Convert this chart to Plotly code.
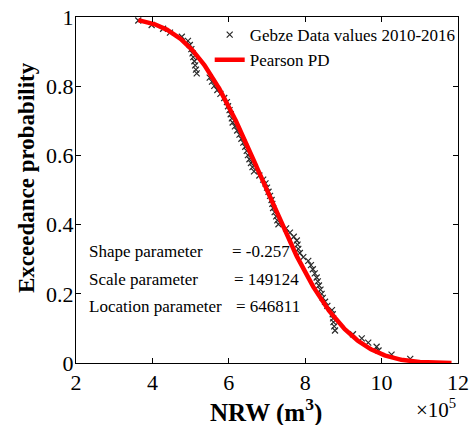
import numpy as np
import plotly.graph_objects as go

# Observed NRW values (x, in units of 1e5 m^3) and their exceedance probabilities
nrw_obs = [3.63, 3.98, 4.28, 4.46, 4.77, 4.93,
           4.98, 5.02, 5.05, 5.07, 5.10, 5.12, 5.14, 5.16,
           5.50, 5.56, 5.62, 5.70, 5.78, 5.88, 5.95, 5.98, 6.02, 6.05,
           6.08, 6.10, 6.16, 6.22, 6.28, 6.33, 6.38, 6.43, 6.47, 6.50,
           6.54, 6.58, 6.62, 6.66, 6.80, 6.90, 6.96, 7.00, 7.04, 7.08,
           7.12, 7.14, 7.16, 7.20, 7.24, 7.27, 7.30, 7.50, 7.60, 7.70,
           7.78, 7.80, 7.82, 7.86, 7.95, 8.08, 8.15, 8.20, 8.25, 8.30,
           8.33, 8.36, 8.40, 8.43, 8.46, 8.52, 8.58, 8.70, 8.72, 8.73,
           8.74, 8.76, 8.78, 9.25, 9.48, 9.65, 9.87, 9.92, 10.26, 10.75]
exc_obs = [0.990, 0.977, 0.966, 0.955, 0.943, 0.931,
           0.919, 0.907, 0.895, 0.884, 0.872, 0.860, 0.848, 0.837,
           0.825, 0.813, 0.801, 0.789, 0.778, 0.766, 0.754, 0.742, 0.731, 0.719,
           0.707, 0.695, 0.684, 0.672, 0.660, 0.648, 0.637, 0.625, 0.613, 0.601,
           0.589, 0.578, 0.566, 0.554, 0.542, 0.530, 0.519, 0.507, 0.495, 0.483,
           0.471, 0.460, 0.448, 0.436, 0.424, 0.412, 0.401, 0.389, 0.377, 0.365,
           0.354, 0.342, 0.330, 0.318, 0.306, 0.295, 0.283, 0.271, 0.259, 0.247,
           0.236, 0.224, 0.212, 0.200, 0.188, 0.177, 0.165, 0.153, 0.141, 0.129,
           0.118, 0.106, 0.094, 0.083, 0.071, 0.059, 0.047, 0.036, 0.024, 0.012]

# Fitted distribution parameters
shape_k = -0.257
scale_s = 149124.0
loc_mu = 646811.0

x_ticks = [2, 4, 6, 8, 10, 12]
y_ticks = [0, 0.2, 0.4, 0.6, 0.8, 1]

# Fitted exceedance curve: 1 - CDF with the parameters above
xc = np.linspace(3.63, 11.83, 400)
z = (xc * 1e5 - loc_mu) / scale_s
t = np.clip(1 + shape_k * z, 1e-12, None)
exc_fit = 1 - np.exp(-t ** (-1 / shape_k))

SERIF = "Liberation Serif"

fig = go.Figure()
fig.add_trace(go.Scatter(
    x=nrw_obs, y=exc_obs, mode="markers", name="Gebze Data values 2010-2016",
    marker=dict(symbol="x-thin", size=6, line=dict(width=1.2, color="#2a2a2a"),
                color="#2a2a2a"),
))
fig.add_trace(go.Scatter(
    x=xc, y=exc_fit, mode="lines", name="Pearson PD",
    line=dict(color="#ff0000", width=4.5),
))

axis_common = dict(
    showline=True, linecolor="black", linewidth=1, mirror="ticks",
    ticks="inside", ticklen=5, tickcolor="black", showgrid=False, zeroline=False,
    tickfont=dict(family=SERIF, size=22, color="black"), automargin=False,
)
fig.update_xaxes(range=[2, 12], tickvals=x_ticks, **axis_common)
fig.update_yaxes(range=[0, 1], tickvals=y_ticks, ticklabelstandoff=-3, **axis_common)

# Axis titles
fig.add_annotation(xref="paper", yref="paper", x=0.497, y=-0.137, xanchor="center",
                   yanchor="middle", text="<b>NRW (m<sup>3</sup>)</b>", showarrow=False,
                   font=dict(family=SERIF, size=25, color="black"))
fig.add_annotation(xref="paper", yref="paper", x=-0.128, y=0.535, xanchor="center",
                   yanchor="middle", text="<b>Exceedance probability</b>", textangle=-90,
                   showarrow=False, font=dict(family=SERIF, size=23, color="black"))

# Parameter annotations
params = [("Shape parameter", "= -0.257", 0.321, 6.03),
          ("Scale parameter", "= 149124", 0.240, 6.08),
          ("Location parameter", "= 646811", 0.162, 6.14)]
for label, val, yy, xv in params:
    fig.add_annotation(x=2.30, y=yy, text=label, showarrow=False, xanchor="left",
                       font=dict(family=SERIF, size=17, color="black"))
    fig.add_annotation(x=xv, y=yy, text=val, showarrow=False, xanchor="left",
                       font=dict(family=SERIF, size=17, color="black"))

# Axis exponent label
fig.add_annotation(xref="paper", yref="paper", x=0.999, y=-0.176, xanchor="right",
                   yanchor="bottom", text="\u00d710<sup>5</sup>", showarrow=False,
                   font=dict(family=SERIF, size=21, color="black"))

fig.update_layout(
    width=473, height=425,
    margin=dict(l=76, r=15, t=17, b=62, autoexpand=False),
    plot_bgcolor="white", paper_bgcolor="white",
    legend=dict(x=0.35, y=1.0, xanchor="left", yanchor="top",
                bgcolor="rgba(0,0,0,0)", font=dict(family=SERIF, size=17, color="black"),
                itemwidth=30, tracegroupgap=0),
    showlegend=True,
)

fig.write_html("out.html")
